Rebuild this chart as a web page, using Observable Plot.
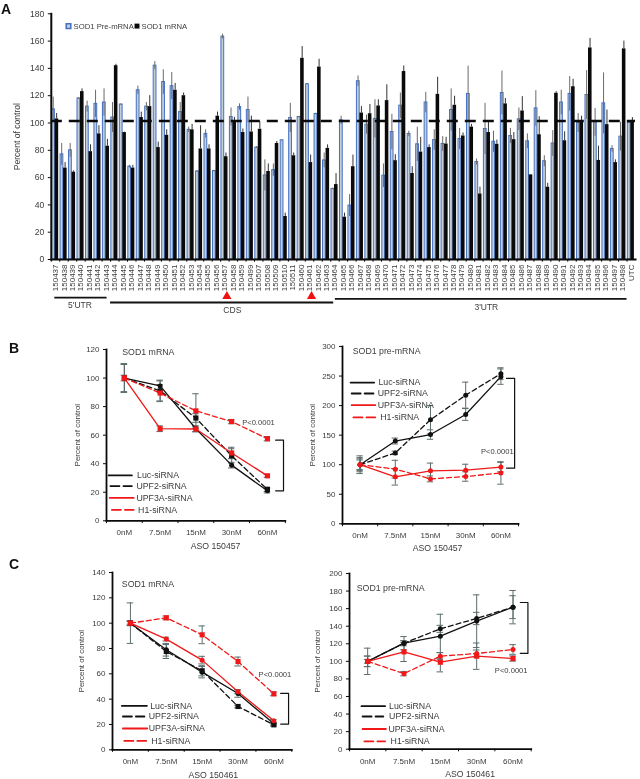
<!DOCTYPE html>
<html>
<head>
<meta charset="utf-8">
<script src="https://cdn.jsdelivr.net/npm/d3@7"></script>
<script src="https://cdn.jsdelivr.net/npm/@observablehq/plot@0.6"></script>
<style>
html,body{margin:0;padding:0;background:#fff}
#page{position:relative;width:640px;height:779px;overflow:hidden;filter:blur(0.3px)}
#page svg{position:absolute;background:transparent;overflow:visible}
.letter{position:absolute;font:bold 14px "Liberation Sans",Arial,sans-serif;color:#111}
</style>
</head>
<body>
<div id="page"></div>
<script>
// ---------- Panel A data ----------
const aoNames = ["150437","150438","150439","150440","150441","150442","150443","150444","150445","150446","150447","150448","150449","150450","150451","150452","150453","150454","150455","150456","150457","150458","150459","150499","150507","150508","150509","150510","150511","150460","150461","150462","150463","150464","150465","150466","150467","150468","150469","150470","150471","150472","150473","150474","150475","150476","150477","150478","150479","150480","150481","150482","150483","150484","150485","150486","150487","150488","150489","150490","150491","150492","150493","150494","150495","150496","150497","150498","UTC"];
const preValues = [110,77,80,118,112,114,115,104,113.5,68,124,112,142,130,127,108,95,64.5,92,64.8,163.3,104.4,111.7,109.5,82,61.6,65.5,87.3,103.7,104.4,128.4,106.6,72.6,51.7,102,39.5,130.6,98.8,103,61.4,93.4,112.7,92,84.4,115,87.5,84.6,109.5,88.3,121.3,71.4,95.6,86.3,122,90.5,102.7,86.6,110.7,72,85,115,121.3,100,120.5,100.5,114.4,81,90,100];
const preErrors = [9,8,5,0.5,4,10,10,11,0.5,1,3,3,3,9,10,7,2,0.5,3,0.5,1.7,6.6,2.3,9.5,0.7,11.4,4.5,0.3,10.7,0.5,0.4,0.5,5.4,0.5,3,8,3.9,7,14,8.6,13,9.3,2,12.6,7.5,7.5,5.4,15.5,7.7,20.3,2.2,18.8,7.7,16,5.5,8.3,5.4,13,4,9.4,9,12.7,7,17.9,10.2,22.3,2.4,10.5,0];
const mrnaValues = [103,67,64,123,79,92,83,142,93,67,104,112,82,91,124,120,95,81,81,105,75.3,101.7,93,93.4,95.4,64.5,85,31.5,76,147.4,71,141,81.4,54.9,31,68,107.3,106.8,112.5,116.4,72.4,137.7,63,78.7,82,121,84.6,113,90.5,97,48,93,84.4,114,87.8,108.8,62,91.4,53,121.8,87,126.6,101,155,72.6,98.8,71,154.3,101.7];
const mrnaErrors = [4,4,1,2,5,6,5,1,0.3,2,4,8,4,4,5,2,4,17,3,3,2.7,2.5,2.6,11.6,5.6,5.5,1.5,2.5,2,8.6,5.5,5.7,2.6,8,3,8.5,4.7,6.7,4.5,11.6,4.4,4.1,5,10.8,2,12.5,4.9,6.6,2.2,2,5,8.7,3.1,4,5.2,10.5,0.3,13.2,2.8,1.2,6.6,5.4,4,7,10.4,10.7,2,5.7,2.3];
const controlLevel = 101.5;
const aTicks = [0,20,40,60,80,100,120,140,160,180];
const regionNames = ["5'UTR","CDS","3'UTR"];
const regionStart = ["150437","150444","150465"];
const regionEnd = ["150443","150463","150498"];
const targetAsos = ["150457","150461"];

// ---------- Panels B, C data ----------
const doses = ["0nM","7.5nM","15nM","30nM","60nM"];
const seriesNames = ["Luc-siRNA","UPF2-siRNA","UPF3A-siRNA","H1-siRNA"];

const b1Luc = [100,94.5,64.5,39,21];       const b1LucErr = [10,4,2,2,1.5];
const b1Upf2 = [100,91,72,45.5,22];        const b1Upf2Err = [10,7,3,5,1.5];
const b1Upf3a = [100,64.5,64.3,47.5,31.5]; const b1Upf3aErr = [9.5,2,2,4,1];
const b1H1 = [100,89.5,77,69.5,57.5];      const b1H1Err = [2,6,12,1.5,1.5];

const b2Luc = [100,140,151,185,249];       const b2LucErr = [15,5,8,10,13];
const b2Upf2 = [100,120,176,217.7,254];    const b2Upf2Err = [12,3,24,22,10];
const b2Upf3a = [100,79.5,89.7,90.8,96];   const b2Upf3aErr = [10,14,13,10,8];
const b2H1 = [100,92.5,76,80,86];          const b2H1Err = [8,15,5,8,19];

const c1Luc = [100,79,61.3,44.5,20.5];     const c1LucErr = [16,5,4.5,3,1];
const c1Upf2 = [100,77.6,62.4,34.2,19.7];  const c1Upf2Err = [2,5.5,4,1,1];
const c1Upf3a = [100,87.4,70.8,45.8,22.9]; const c1Upf3aErr = [1.5,1.5,3,1.5,1];
const c1H1 = [100,104.2,90.8,69.7,44.2];   const c1H1Err = [1.5,1.5,7,3.5,1.5];

const c2Luc = [100,120.7,128.6,145.7,161.7];  const c2LucErr = [15,7.5,25,30,13];
const c2Upf2 = [100,120.7,137,148.8,161.7];   const c2Upf2Err = [6,3,4,7,19];
const c2Upf3a = [100,110.8,99,105.9,103.2];   const c2Upf3aErr = [6,11,11,15,3];
const c2H1 = [100,86,105.9,108.9,113.5];      const c2H1Err = [2,2.5,4,4,5.5];

const seriesStroke = ["#111","#111","#f01818","#f01818"];
const seriesDash = [null,"5 3",null,"5 3"];
const legendDash = [null,"9 4",null,"9 4"];

const fontFamily = '"Liberation Sans",Arial,sans-serif';
const textColor = "#3c3c3c";
const page = document.getElementById("page");
function place(svg, left, top){ svg.style.left = left+"px"; svg.style.top = top+"px"; page.appendChild(svg); }

// ---------- Panel A ----------
(function(){
  const left = 0, top = 0, mL = 50.8, mT = 13.3, yBottom = 259, W = 640, H = 330;
  const pre = aoNames.map((n,i)=>({n, v:preValues[i], e:preErrors[i]}));
  const m = aoNames.map((n,i)=>({n, v:mrnaValues[i], e:mrnaErrors[i]}));
  const regionLine = (i,y,inL,inR)=>Plot.ruleY([{a:regionStart[i],b:regionEnd[i]}],{y:()=>y,x1:"a",x2:"b",stroke:"#111",strokeWidth:1.8,insetLeft:inL,insetRight:inR});
  const p = Plot.plot({
    width:W, height:H, marginLeft:mL, marginTop:mT, marginRight:5, marginBottom:H-yBottom,
    style:{fontFamily, fontSize:"8.6px", color:textColor, background:"transparent"},
    x:{domain:aoNames, padding:0, type:"band"},
    y:{domain:[0,180]},
    marks:[
      Plot.barY(pre,{x:"n",y:"v",fill:"#c4ced8",stroke:"#4470c4",strokeWidth:1,insetLeft:0.8,insetRight:4.9}),
      Plot.ruleX(pre,{x:"n",y1:d=>d.v-d.e,y2:d=>d.v+d.e,stroke:"#6a6a6a",strokeWidth:1,dx:-2.3}),
      Plot.barY(m,{x:"n",y:"v",fill:"#0a0a0a",insetLeft:3.8,insetRight:1.1}),
      Plot.ruleX(m,{x:"n",y1:d=>d.v,y2:d=>d.v+d.e,stroke:"#333",strokeWidth:1,dx:1.1}),
      Plot.ruleY([controlLevel],{stroke:"#0a0a0a",strokeWidth:2.4,strokeDasharray:"11 7"}),
      Plot.frame({anchor:"left",stroke:"#0a0a0a",strokeWidth:2}),
      Plot.frame({anchor:"bottom",stroke:"#0a0a0a",strokeWidth:2}),
      Plot.axisY({ticks:aTicks,tickSize:3,tickPadding:4,stroke:"#0a0a0a",fill:textColor,label:"Percent of control",labelAnchor:"center",labelOffset:37,labelArrow:"none"}),
      Plot.axisX({tickSize:0,tickPadding:5,tickRotate:-90,fontSize:8,fill:textColor,label:null}),
      Plot.ruleX(aoNames,{x:d=>d,y1:0,y2:-2,stroke:"#0a0a0a",dx:-4.23}),
      regionLine(0,-28,3.5,3.5),
      regionLine(1,-31.5,0,-3),
      regionLine(2,-28.8,-3.8,0),
      Plot.dot(targetAsos,{x:d=>d,y:-27,symbol:"triangle",fill:"#f01010",r:3.4,dx:2}),
      Plot.text(regionNames,{x:d=>d==="CDS"?"150458":d==="5'UTR"?"150440":"150482",y:d=>d==="CDS"?-37:d==="5'UTR"?-33.6:-35,text:d=>d,fontSize:8.5,fill:textColor,dx:-1}),
      Plot.dot(["150438"],{x:d=>d,y:171,symbol:"square",fill:"#c4ced8",stroke:"#4470c4",r:2.6,dx:4.5}),
      Plot.text(["SOD1 Pre-mRNA"],{x:()=>"150439",y:171,text:d=>d,textAnchor:"start",fontSize:7.7,fill:textColor,dx:1.1}),
      Plot.dot(["150447"],{x:d=>d,y:171,symbol:"square",fill:"#0a0a0a",r:2.8,dx:-3.2}),
      Plot.text(["SOD1 mRNA"],{x:()=>"150447",y:171,text:d=>d,textAnchor:"start",fontSize:7.7,fill:textColor,dx:1.3})
    ]
  });
  place(p,left,top);
})();

// ---------- Line panels ----------
function linePanel(c){
  const mL = 50, mR = 20, mT = 10, mB = 32;
  const W = mL + (c.xEnd-c.xAxis) + mR, H = mT + (c.yZero-c.yTop) + mB;
  const rows=[]; c.values.forEach((vals,s)=>vals.forEach((v,i)=>rows.push({s,i,v,e:c.errors[s][i]})));
  const byS = s => rows.filter(r=>r.s===s);
  const lineMarks = [], errMarks=[], dotMarks=[];
  seriesNames.forEach((_,s)=>{
    errMarks.push(Plot.ruleX(byS(s),{x:"i",y1:d=>d.v-d.e,y2:d=>d.v+d.e,stroke:"#5c6c6c",strokeWidth:1}));
    errMarks.push(Plot.ruleY(byS(s),{y:d=>d.v+d.e,x1:d=>d.i-0.09,x2:d=>d.i+0.09,stroke:"#5c6c6c",strokeWidth:1}));
    errMarks.push(Plot.ruleY(byS(s),{y:d=>d.v-d.e,x1:d=>d.i-0.09,x2:d=>d.i+0.09,stroke:"#5c6c6c",strokeWidth:1}));
    lineMarks.push(Plot.line(byS(s),{x:"i",y:"v",stroke:seriesStroke[s],strokeWidth:1.3,strokeDasharray:seriesDash[s]}));
    dotMarks.push(Plot.dot(byS(s),{x:"i",y:"v",fill:seriesStroke[s],symbol:c.symbols[s],r:c.symbols[s]==="square"?2.9:2.5}));
  });
  const legendLines = seriesNames.map((n,s)=>Plot.line(c.legendX[s].map(x=>({x,y:c.legendY[s]})),{x:"x",y:"y",stroke:seriesStroke[s],strokeWidth:1.8,strokeDasharray:legendDash[s]}));
  const legendText = Plot.text(seriesNames,{x:(d,i)=>c.legendTextX[i],y:(d,i)=>c.legendY[i],text:d=>d,textAnchor:"start",fontSize:8.8,fill:textColor});
  const p = Plot.plot({
    width:W, height:H, marginLeft:mL, marginRight:mR, marginTop:mT, marginBottom:mB,
    style:{fontFamily, fontSize:"8px", color:textColor, background:"transparent"},
    x:{domain:[-0.5,4.5]},
    y:{domain:[0,c.yMax]},
    marks:[
      ...errMarks, ...lineMarks, ...dotMarks,
      Plot.frame({anchor:"left",stroke:"#0a0a0a",strokeWidth:1.8}),
      Plot.frame({anchor:"bottom",stroke:"#0a0a0a",strokeWidth:1.8}),
      Plot.axisY({ticks:c.ticks,tickSize:3,tickPadding:4,stroke:"#0a0a0a",fill:textColor,label:"Percent of control",labelAnchor:"center",labelOffset:c.labelOffset,labelArrow:"none"}),
      Plot.axisX({ticks:[0,1,2,3,4],tickSize:0,tickPadding:9,tickFormat:i=>doses[i],fill:textColor,label:null}),
      Plot.ruleX([-0.5,0.5,1.5,2.5,3.5,4.5],{x:d=>d,y1:0,y2:c.tickLen,stroke:"#0a0a0a"}),
      Plot.text([c.title],{x:c.titleX,y:c.titleY,text:d=>d,textAnchor:"start",fontSize:8.8,fill:textColor}),
      Plot.text([c.aso],{x:c.asoX,y:c.asoY,text:d=>d,fontSize:8.7,fill:textColor}),
      Plot.text(["P<0.0001"],{x:c.pX,y:c.pY,text:d=>d,fontSize:7.6,fill:textColor}),
      Plot.line(c.bracketX.map((x,i)=>({x,y:c.bracketY[i]})),{x:"x",y:"y",stroke:"#111",strokeWidth:1.2}),
      ...legendLines, legendText
    ]
  });
  place(p,c.xAxis-mL,c.yTop-mT);
}

linePanel({
  xAxis:105.7,xEnd:284.5,yTop:349,yZero:520.3,yMax:120,ticks:[0,20,40,60,80,100,120],tickLen:-2,labelOffset:32,
  values:[b1Luc,b1Upf2,b1Upf3a,b1H1],errors:[b1LucErr,b1Upf2Err,b1Upf3aErr,b1H1Err],
  symbols:["circle","square","square","square"],
  title:"SOD1 mRNA",titleX:-0.06,titleY:118,aso:"ASO 150457",asoX:2.55,asoY:-18,pX:3.75,pY:68.5,
  bracketX:[4.23,4.45,4.45,4.23],bracketY:[56.5,56.5,21,21],
  legendX:[[-0.44,0.21],[-0.39,0.21],[-0.41,0.26],[-0.35,0.26]],legendTextX:[0.355,0.336,0.336,0.383],legendY:[31.8,24.3,16,7.7]
});
linePanel({
  xAxis:342,xEnd:518,yTop:345.7,yZero:523,yMax:300,ticks:[0,50,100,150,200,250,300],tickLen:-5,labelOffset:33,
  values:[b2Luc,b2Upf2,b2Upf3a,b2H1],errors:[b2LucErr,b2Upf2Err,b2Upf3aErr,b2H1Err],
  symbols:["circle","circle","circle","circle"],
  title:"SOD1 pre-mRNA",titleX:-0.21,titleY:292.7,aso:"ASO 150457",asoX:2.2,asoY:-42,pX:3.9,pY:122.4,
  bracketX:[4.16,4.39,4.39,4.16],bracketY:[246,246,94.2,94.2],
  legendX:[[-0.27,0.4],[-0.24,0.38],[-0.24,0.43],[-0.19,0.43]],legendTextX:[0.52,0.5,0.5,0.57],legendY:[239,220.5,200.8,180]
});
linePanel({
  xAxis:111.7,xEnd:291,yTop:571.7,yZero:749,yMax:140,ticks:[0,20,40,60,80,100,120,140],tickLen:-2,labelOffset:34,
  values:[c1Luc,c1Upf2,c1Upf3a,c1H1],errors:[c1LucErr,c1Upf2Err,c1Upf3aErr,c1H1Err],
  symbols:["circle","square","circle","square"],
  title:"SOD1 mRNA",titleX:-0.24,titleY:130.5,aso:"ASO 150461",asoX:2.31,asoY:-19.7,pX:4.03,pY:59.2,
  bracketX:[4.19,4.41,4.41,4.19],bracketY:[44.5,44.5,20.3,20.3],
  legendX:[[-0.24,0.46],[-0.21,0.39],[-0.21,0.47],[-0.17,0.44]],legendTextX:[0.55,0.51,0.51,0.58],legendY:[34.7,26.3,16.8,7]
});
linePanel({
  xAxis:349.3,xEnd:531,yTop:573.3,yZero:749,yMax:200,ticks:[0,20,40,60,80,100,120,140,160,180,200],tickLen:-3,labelOffset:35,
  values:[c2Luc,c2Upf2,c2Upf3a,c2H1],errors:[c2LucErr,c2Upf2Err,c2Upf3aErr,c2H1Err],
  symbols:["circle","circle","square","circle"],
  title:"SOD1 pre-mRNA",titleX:-0.3,titleY:183.7,aso:"ASO 150461",asoX:2.82,asoY:-28.4,pX:3.95,pY:90,
  bracketX:[4.2,4.41,4.41,4.2],bracketY:[167,167,109,109],
  legendX:[[-0.17,0.48],[-0.14,0.43],[-0.14,0.5],[-0.09,0.48]],legendTextX:[0.59,0.59,0.57,0.63],legendY:[49,37.2,23,9]
});

// ---------- Panel letters ----------
[["A",1,1],["B",9,340],["C",9,556]].forEach(([t,x,y])=>{
  const d=document.createElement("div"); d.className="letter"; d.textContent=t; d.style.left=x+"px"; d.style.top=y+"px"; page.appendChild(d);
});
</script>
</body>
</html>
